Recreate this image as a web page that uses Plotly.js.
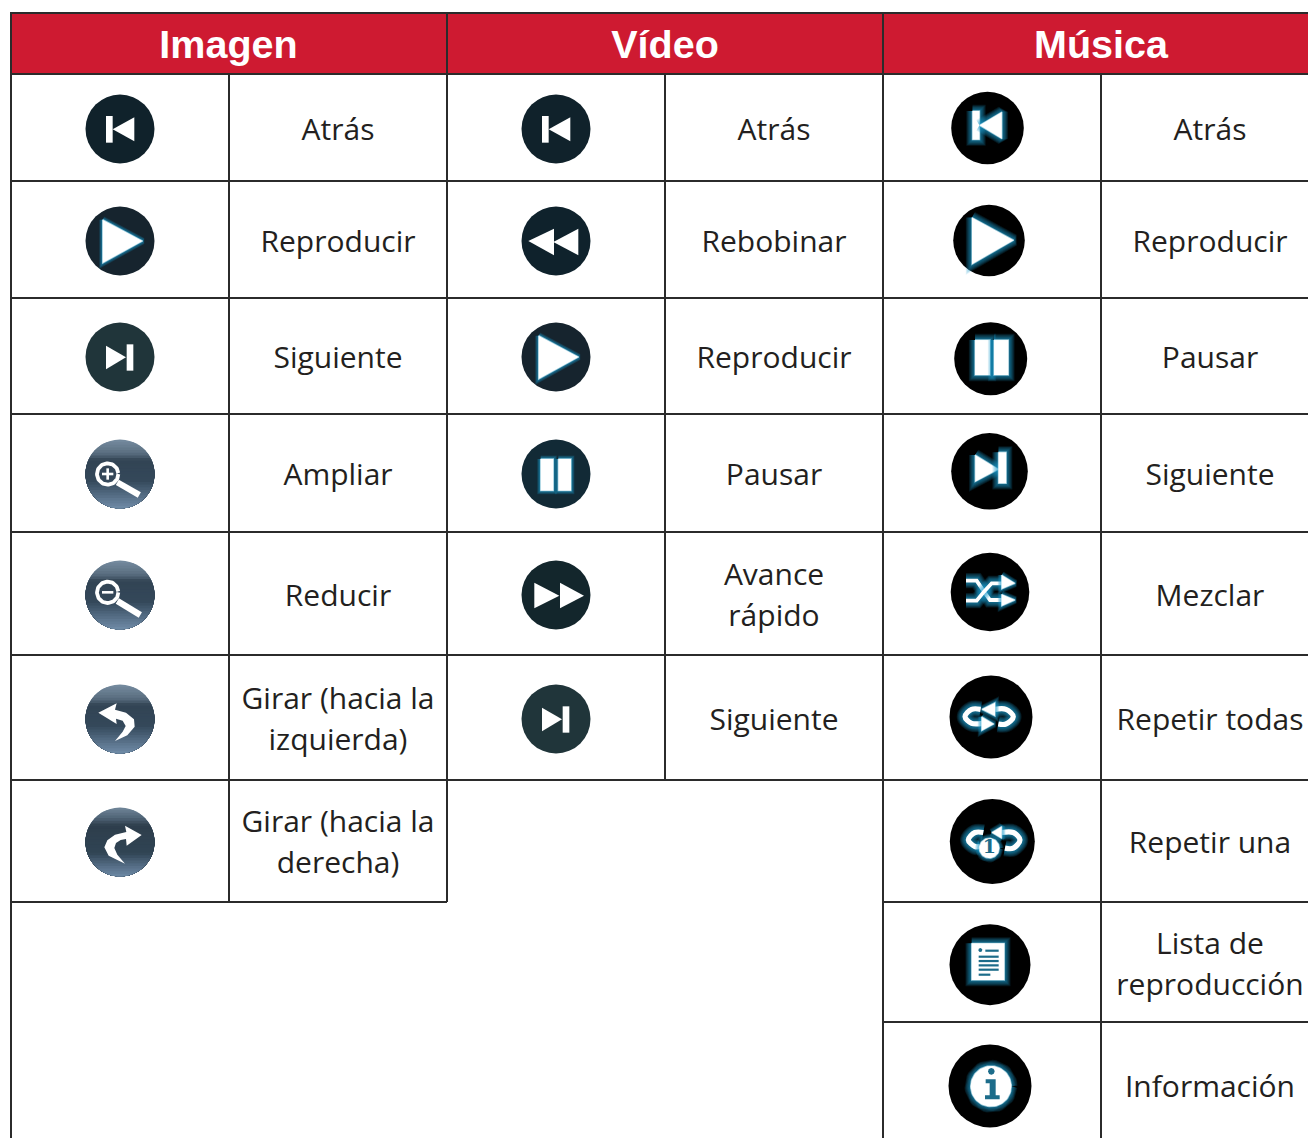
<!DOCTYPE html>
<html>
<head>
<meta charset="utf-8">
<script src="https://cdn.plot.ly/plotly-3.0.1.min.js"></script>
<style>html,body{margin:0;padding:0;background:#fff}</style>
</head>
<body>
<div id="chart" style="width:1308px;height:1138px"></div>
<script>
// ---------- content ----------
const headers = ['Imagen', 'Vídeo', 'Música'];
const imageLabels = ['Atrás', 'Reproducir', 'Siguiente', 'Ampliar', 'Reducir', 'Girar (hacia la\nizquierda)', 'Girar (hacia la\nderecha)'];
const videoLabels = ['Atrás', 'Rebobinar', 'Reproducir', 'Pausar', 'Avance\nrápido', 'Siguiente'];
const musicLabels = ['Atrás', 'Reproducir', 'Pausar', 'Siguiente', 'Mezclar', 'Repetir todas', 'Repetir una', 'Lista de\nreproducción', 'Información'];
const imageIcons = ['back', 'play', 'next', 'zoomIn', 'zoomOut', 'rotL', 'rotR'];
const videoIcons = ['back', 'rew', 'play', 'pause', 'ff', 'next'];
const musicIcons = ['mBack', 'mPlay', 'mPause', 'mNext', 'shuffle', 'repAll', 'repOne', 'list', 'info'];

// ---------- layout of the table (pixel scale of the axes) ----------
const imageRowY = [129, 241, 357, 474, 595, 719, 842];
const videoRowY = [129, 241, 357, 474, 595, 719];
const musicRowY = [129, 241, 357, 474, 595, 719, 842, 964, 1086];
const musicIconX = [987.5, 989, 990.7, 989.5, 990, 991, 992.3, 990, 990];
const musicIconY = [128, 240.5, 358.7, 471.3, 592, 717, 841.5, 964.7, 1086];
const musicIconR = [36.3, 35.8, 36.5, 38.3, 39.3, 41.5, 42.5, 40.5, 41.5];
const imageIconX = 120, videoIconX = 556, iconR = 34.5;
const imageTextX = 338, videoTextX = 774, musicTextX = 1210;
const headerX = [228.5, 665, 1101];
const INK = '#2b2b2b', RED = '#ce1a31', GLOW = '#1f9fca', DEEP = '#1c6c8a';

const traces = [];
function poly(pts, color, opt) {
  opt = opt || {};
  const p = pts.concat([pts[0]]);
  traces.push({x: p.map(a => a[0]), y: p.map(a => a[1]), mode: 'lines', fill: 'toself', fillcolor: color,
    line: {width: opt.w || 0, color: opt.lc || color}, hoverinfo: 'skip', opacity: opt.op === undefined ? 1 : opt.op});
}
function stroke(pts, color, w, opt) {
  opt = opt || {};
  traces.push({x: pts.map(a => a[0]), y: pts.map(a => a[1]), mode: 'lines',
    line: {width: w, color: color, shape: opt.spline ? 'spline' : 'linear'}, hoverinfo: 'skip', opacity: opt.op === undefined ? 1 : opt.op});
}
function circ(cx, cy, r) {
  const a = [];
  for (let i = 0; i < 72; i++) a.push([cx + r * Math.cos(i * Math.PI / 36), cy + r * Math.sin(i * Math.PI / 36)]);
  return a;
}
// glyph coordinates are given in 3x-crop units around a local origin
function tf(c, o, k) { return pts => pts.map(p => [c[0] + (p[0] - o[0]) / 3 * k, c[1] + (p[1] - o[1]) / 3 * k]); }

const glowSteps = [4.4, 3.8, 3.2, 2.6, 2, 1.4, 0.9];
function glowPoly(pts, g, color) {
  const closed = pts.concat([pts[0]]);
  if (g) {
    glowSteps.forEach(f => stroke(closed, GLOW, g * f, {op: 0.14}));
    stroke(closed, '#c4eaf5', 1.4, {op: 0.7});
  }
  poly(pts, color || '#ffffff');
}
function glowStroke(pts, w, g, spline) {
  if (g) glowSteps.forEach(f => stroke(pts, GLOW, w + g * f, {spline, op: 0.14}));
  stroke(pts, '#ffffff', w, {spline});
}
function rect(x0, x1, y0, y1) { return [[x0, y0], [x1, y0], [x1, y1], [x0, y1]]; }

function gradientDisk(cx, cy, r, stops) {
  const n = 26;
  const mix = t => {
    let i = 0; while (i < stops.length - 2 && t > stops[i + 1][0]) i++;
    const a = stops[i], b = stops[i + 1], f = Math.min(1, Math.max(0, (t - a[0]) / (b[0] - a[0])));
    return 'rgb(' + [0, 1, 2].map(k => Math.round(a[1][k] + (b[1][k] - a[1][k]) * f)).join(',') + ')';
  };
  for (let s = 0; s < n; s++) {
    const y0 = cy - r + 2 * r * s / n, pts = [];
    for (let i = 0; i <= 40; i++) {
      const ang = Math.asin(Math.max(-1, Math.min(1, (y0 - cy) / r)));
      const th = ang + (Math.PI - 2 * ang) * i / 40;
      pts.push([cx + r * Math.cos(th), cy + r * Math.sin(th)]);
    }
    poly(pts, mix((s + 0.5) / n));
  }
}
const slateA = [[0, [118, 140, 160]], [0.2, [90, 110, 128]], [0.3, [50, 68, 84]], [0.6, [52, 72, 90]], [0.82, [86, 110, 134]], [1, [112, 140, 168]]];
const slateB = [[0, [112, 134, 154]], [0.16, [78, 98, 116]], [0.26, [46, 62, 76]], [0.66, [48, 68, 84]], [0.84, [84, 108, 132]], [1, [108, 136, 164]]];

const icons = {
  back(c, r) {
    disk(c, r, '#10222b');
    const t = tf(c, [360, 387], 1);
    glowPoly(t(rect(318, 338, 348, 428)), 0);
    glowPoly(t([[338, 388], [403, 352], [403, 424]]), 0);
  },
  next(c, r) {
    disk(c, r, '#20353a');
    const t = tf(c, [360, 1071], 1);
    glowPoly(t([[318, 1037], [378, 1072], [318, 1108]]), 0);
    glowPoly(t(rect(380, 400, 1033, 1112)), 0);
  },
  play(c, r) {
    disk(c, r, '#16242e');
    const t = tf(c, [360, 722], 1);
    glowPoly(t([[308, 658], [428, 722], [308, 788]]), 1.6);
  },
  rew(c, r) {
    disk(c, r, '#0f222c');
    const t = tf(c, [168, 482], 1);
    glowPoly(t([[85, 482], [162, 445], [162, 525]]), 0);
    glowPoly(t([[160, 485], [235, 445], [235, 525]]), 0);
  },
  ff(c, r) {
    disk(c, r, '#13262c');
    const t = tf(c, [168, 525], 1);
    glowPoly(t([[103, 488], [178, 527], [103, 565]]), 0);
    glowPoly(t([[180, 488], [252, 527], [180, 565]]), 0);
  },
  pause(c, r) {
    disk(c, r, '#122a36');
    const t = tf(c, [168, 160], 1);
    glowPoly(t(rect(122, 160, 115, 210)), 1.6);
    glowPoly(t(rect(175, 213, 115, 210)), 1.6);
  },
  zoomIn(c, r) {
    gradientDisk(c[0], c[1], r, slateA);
    const t = tf(c, [180, 163], 1);
    stroke(t(circ(143, 163, 32)), '#fff', 3.8);
    stroke(t([[172, 188], [238, 226]]), '#fff', 6.2);
    stroke(t([[126, 163], [160, 163]]), '#fff', 2.6);
    stroke(t([[143, 146], [143, 180]]), '#fff', 2.6);
  },
  zoomOut(c, r) {
    gradientDisk(c[0], c[1], r, slateA);
    const t = tf(c, [180, 525], 1);
    stroke(t(circ(143, 517, 32)), '#fff', 3.8);
    stroke(t([[172, 543], [241, 585]]), '#fff', 6.2);
    stroke(t([[126, 517], [160, 517]]), '#fff', 2.6);
  },
  rotL(c, r) {
    gradientDisk(c[0], c[1], r, slateA);
    const t = tf(c, [180, 897], 1);
    poly(t([[115, 878], [170, 850], [165, 869], [198, 878], [222, 898], [224, 920], [202, 946], [165, 963], [188, 935], [197, 918], [188, 902], [168, 896], [170, 912]]), '#ffffff');
  },
  rotR(c, r) {
    gradientDisk(c[0], c[1], r, slateB);
    const t = tf(c, [180, 1267], 1);
    poly(t([[245, 1246], [195, 1218], [199, 1237], [165, 1245], [142, 1262], [133, 1283], [146, 1308], [195, 1332], [172, 1305], [163, 1285], [168, 1270], [182, 1261], [198, 1258], [200, 1278]]), '#ffffff');
  },
  mBack(c, r) {
    disk(c, r, '#000');
    const t = tf(c, [172, 143], 1);
    glowPoly(t(rect(127, 148, 92, 178)), 2.8);
    glowPoly(t([[148, 135], [215, 95], [215, 175]]), 2.8);
  },
  mPlay(c, r) {
    disk(c, r, '#000');
    const t = tf(c, [176, 481], 1);
    glowPoly(t([[125, 412], [250, 480], [125, 552]]), 2.8);
  },
  mPause(c, r) {
    disk(c, r, '#000');
    const t = tf(c, [182, 836], 1);
    glowPoly(t(rect(135, 180, 780, 885)), 2.8);
    glowPoly(t(rect(192, 235, 780, 885)), 2.8);
  },
  mNext(c, r) {
    disk(c, r, '#000');
    const t = tf(c, [178, 154], 1);
    glowPoly(t([[135, 105], [205, 148], [135, 185]]), 2.8);
    glowPoly(t(rect(205, 228, 97, 190)), 2.8);
  },
  shuffle(c, r) {
    disk(c, r, '#000');
    const t = tf(c, [180, 516], 1);
    const a = t([[108, 482], [140, 482], [162, 515], [180, 540], [218, 540]]);
    const b = t([[108, 542], [140, 542], [162, 515], [185, 490], [218, 490]]);
    glowStroke(a, 3.8, 2.6, false); glowStroke(b, 3.8, 2.6, false);
    glowPoly(t([[215, 465], [255, 490], [215, 507]]), 1.8);
    glowPoly(t([[215, 523], [255, 540], [215, 558]]), 1.8);
  },
  repAll(c, r) {
    disk(c, r, '#000');
    const t = tf(c, [183, 891], 1);
    const a = t([[195, 868], [228, 868], [250, 890], [228, 912], [205, 912]]);
    const b = t([[158, 910], [125, 910], [105, 890], [125, 868], [152, 868]]);
    glowStroke(a, 5.2, 2.6, true); glowStroke(b, 5.2, 2.6, true);
    glowPoly(t([[155, 868], [195, 848], [195, 888]]), 1.8);
    glowPoly(t([[155, 890], [192, 912], [155, 932]]), 1.8);
  },
  repOne(c, r) {
    disk(c, r, '#000');
    const t = tf(c, [187, 185], 1);
    const a = t([[215, 158], [250, 158], [270, 180], [250, 205], [225, 205]]);
    const b = t([[160, 158], [135, 158], [115, 180], [135, 200], [150, 200]]);
    glowStroke(a, 5.2, 2.6, true); glowStroke(b, 5.2, 2.6, true);
    glowPoly(t([[185, 158], [215, 140], [215, 176]]), 1.8);
    glowPoly(t(circ(178, 205, 30)), 2);
  },
  list(c, r) {
    disk(c, r, '#000');
    const t = tf(c, [179, 554], 1);
    glowPoly(t(rect(124, 222, 490, 600)), 2.8);
    poly(t(circ(150, 510, 6)), DEEP);
    [[165, 512, 205], [145, 530, 205], [145, 543, 205], [145, 556, 205], [145, 569, 205], [145, 584, 180]].forEach(s =>
      stroke(t([[s[0], s[1]], [s[2], s[1]]]), DEEP, 2.2));
  },
  info(c, r) {
    disk(c, r, '#000');
    const t = tf(c, [181, 920], 1);
    glowPoly(t(circ(184, 921, 61)), 2.8);
    poly(t(circ(185, 876, 10)), DEEP);
    poly(t([[168, 900], [198, 900], [198, 948], [210, 948], [210, 960], [166, 960], [166, 948], [180, 948], [180, 912], [168, 912]]), DEEP);
  }
};
function disk(c, r, color) {
  traces.push({x: [c[0]], y: [c[1]], mode: 'markers', hoverinfo: 'skip',
    marker: {symbol: 'circle', size: 2 * r, color: color, line: {width: 0}}});
}

// ---------- header band ----------
poly(rect(11, 1308, 13, 74), RED);

// ---------- grid ----------
function gridLines(segs) {
  const x = [], y = [];
  segs.forEach(s => { x.push(s[0], s[2], null); y.push(s[1], s[3], null); });
  traces.push({x, y, mode: 'lines', line: {color: INK, width: 2}, hoverinfo: 'skip'});
}
const imageRules = [74, 181, 298, 414, 532, 655, 780, 902];
const videoRules = [74, 181, 298, 414, 532, 655, 780];
const musicRules = [74, 181, 298, 414, 532, 655, 780, 902, 1022];
const segs = [[10, 13, 1308, 13], [11, 13, 11, 1138], [447, 13, 447, 902], [883, 13, 883, 1138], [229, 74, 229, 902], [665, 74, 665, 780], [1101, 74, 1101, 1138]];
imageRules.forEach(y => segs.push([11, y, 447, y]));
videoRules.forEach(y => segs.push([447, y, 883, y]));
musicRules.forEach(y => segs.push([883, y, 1308, y]));
gridLines(segs);

// ---------- icons ----------
imageIcons.forEach((k, i) => icons[k]([imageIconX, imageRowY[i]], iconR));
videoIcons.forEach((k, i) => icons[k]([videoIconX, videoRowY[i]], iconR));
musicIcons.forEach((k, i) => icons[k]([musicIconX[i], musicIconY[i]], musicIconR[i]));

// glyph "1" in the repeat-one icon
traces.push({x: [musicIconX[6] - 3], y: [musicIconY[6] + 6.5], mode: 'text', text: ['1'], hoverinfo: 'skip',
  textposition: 'middle center', textfont: {family: 'DejaVu Serif', size: 19, weight: 700, color: DEEP}});

// ---------- texts ----------
function labelTrace(labels, ys, x) {
  const tx = [], ty = [], tt = [];
  labels.forEach((l, i) => {
    const parts = l.split('\n');
    parts.forEach((p, j) => {
      tx.push(x); ty.push(ys[i] + 3 + (j - (parts.length - 1) / 2) * 41.5); tt.push(p);
    });
  });
  traces.push({x: tx, y: ty, text: tt, mode: 'text', textposition: 'middle center', hoverinfo: 'skip',
    textfont: {family: '"Open Sans", sans-serif', size: 30, color: '#231f20'}});
}
labelTrace(imageLabels, imageRowY, imageTextX);
labelTrace(videoLabels, videoRowY, videoTextX);
labelTrace(musicLabels, musicRowY, musicTextX);
traces.push({x: headerX, y: headers.map(() => 48.5), text: headers, mode: 'text', textposition: 'middle center', hoverinfo: 'skip',
  textfont: {family: '"Liberation Sans", Arial, sans-serif', size: 39.5, weight: 700, color: '#ffffff'}});

Plotly.newPlot('chart', traces, {
  width: 1308, height: 1138, margin: {l: 0, r: 0, t: 0, b: 0, pad: 0},
  paper_bgcolor: '#ffffff', plot_bgcolor: '#ffffff', showlegend: false, hovermode: false,
  xaxis: {range: [0, 1308], visible: false, fixedrange: true},
  yaxis: {range: [1138, 0], visible: false, fixedrange: true}
}, {displayModeBar: false, staticPlot: true});
</script>
</body>
</html>
